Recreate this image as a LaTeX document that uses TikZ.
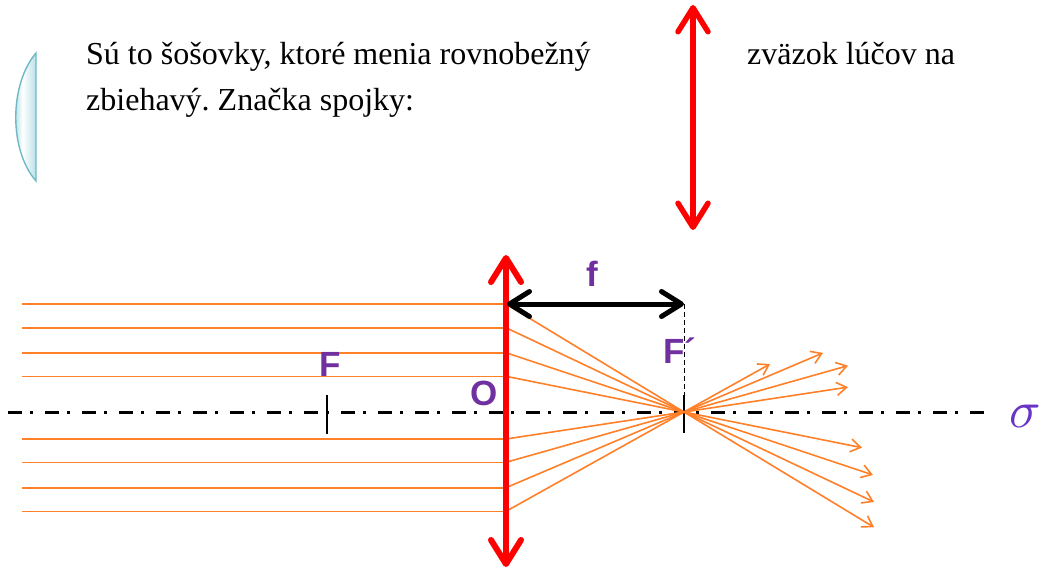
\documentclass[tikz,border=0pt]{standalone}
\usepackage{fontspec}
\setmainfont{Liberation Serif}
\newfontfamily\bodyfont{Liberation Serif}
\newfontfamily\labelfont{Liberation Sans}
\usetikzlibrary{arrows.meta,calc}
\definecolor{rayorange}{RGB}{255,128,40}
\definecolor{lensred}{RGB}{255,0,0}
\definecolor{labelpurple}{RGB}{112,48,160}
\definecolor{axispurple}{RGB}{104,52,200}
\definecolor{glassedge}{RGB}{110,185,196}
\definecolor{glassfill}{RGB}{128,200,210}
\begin{document}
\frenchspacing
\begin{tikzpicture}[x=1pt,y=-1pt,
  bodytext/.style={anchor=base west,inner sep=0pt,font=\bodyfont\fontsize{32}{38}\selectfont},
  letter/.style={anchor=base west,inner sep=0pt,text=labelpurple,font=\labelfont\bfseries\fontsize{35}{40}\selectfont},
  ray/.style={draw=rayorange,line width=1.6pt},
  raytip/.style={ray,-{Straight Barb[length=10pt,width=13pt]}},
  lenssign/.style={draw=lensred,line width=6pt,line cap=round,
    {Straight Barb[round,length=24pt,width=30pt]}-{Straight Barb[round,length=24pt,width=30pt]}},
  focallen/.style={draw=black,line width=5pt,line cap=round,
    {Straight Barb[round,length=20pt,width=25pt]}-{Straight Barb[round,length=20pt,width=25pt]}},
  optaxis/.style={draw=black,line width=3pt,dash pattern=on 14pt off 8pt on 3pt off 12pt},
  tick/.style={draw=black,line width=1.4pt},
]
\useasboundingbox (0,0) rectangle (1046,569);

% plano-convex glass lens
\shade[left color=glassfill,right color=glassfill!55,middle color=white,draw=glassedge,line width=1.4pt]
  (36,53) .. controls (9,85) and (9,150) .. (36,181) -- cycle;

% text
\node[bodytext] (t1) at (86,65) {Sú to šošovky, ktoré menia rovnobežný};
\node[bodytext] (t2) at (747,65) {zväzok lúčov na};
\node[bodytext] (t3) at (86,111) {zbiehavý. Značka spojky:};

% symbol of a converging lens
\coordinate (symTop) at (693,5);
\coordinate (symBot) at (693,230);
\draw[lenssign,line width=5.5pt] (symBot) -- (symTop);

% optical axis
\coordinate (axL) at (8,412);
\coordinate (axR) at (988,412);
\draw[optaxis] (axL) -- (axR);

% focal points
\coordinate (F) at (327,412);
\coordinate (Fp) at (684,412);
\draw[tick] ($(F)+(0,-17)$) -- ($(F)+(0,22)$);
\draw[tick] ($(Fp)+(0,-17)$) -- ($(Fp)+(0,21)$);
\coordinate (fR) at (684,304);
\draw[black,line width=1pt,dash pattern=on 5pt off 3pt] (fR) -- ($(Fp)+(0,-17)$);

% rays: parallel in, converging through F', diverging out
\foreach \i/\yy/\tx in {1/304/874,2/327.7/874,3/352.7/873,4/376.3/862,5/439/848,6/462.3/848,7/487.7/823,8/511.3/770}{
  \coordinate (in\i) at (22,\yy);
  \coordinate (hit\i) at (506,\yy);
  \coordinate (out\i) at (\tx,{412-(\tx-684)/178*(\yy-412)});
  \draw[ray] (in\i) -- (hit\i);
  \draw[raytip] (hit\i) -- (Fp) -- (out\i);
}

% the lens
\coordinate (lensTop) at (506,255);
\coordinate (lensBot) at (506,567);
\draw[lenssign] (lensBot) -- (lensTop);

% focal length
\coordinate (fL) at (507,304);
\draw[focallen] (fL) -- (fR);

% labels
\node[letter] (lf) at (586,287) {f};
\node[letter] (lF) at (319,376) {F};
\node[letter] (lO) at (470,405) {O};
\node[letter] (lFp) at (663,363) {F´};
\node[anchor=base west,inner sep=0pt,text=axispurple,scale=5.2] (sig) at (1008,427) {$\sigma$};
\end{tikzpicture}
\end{document}
